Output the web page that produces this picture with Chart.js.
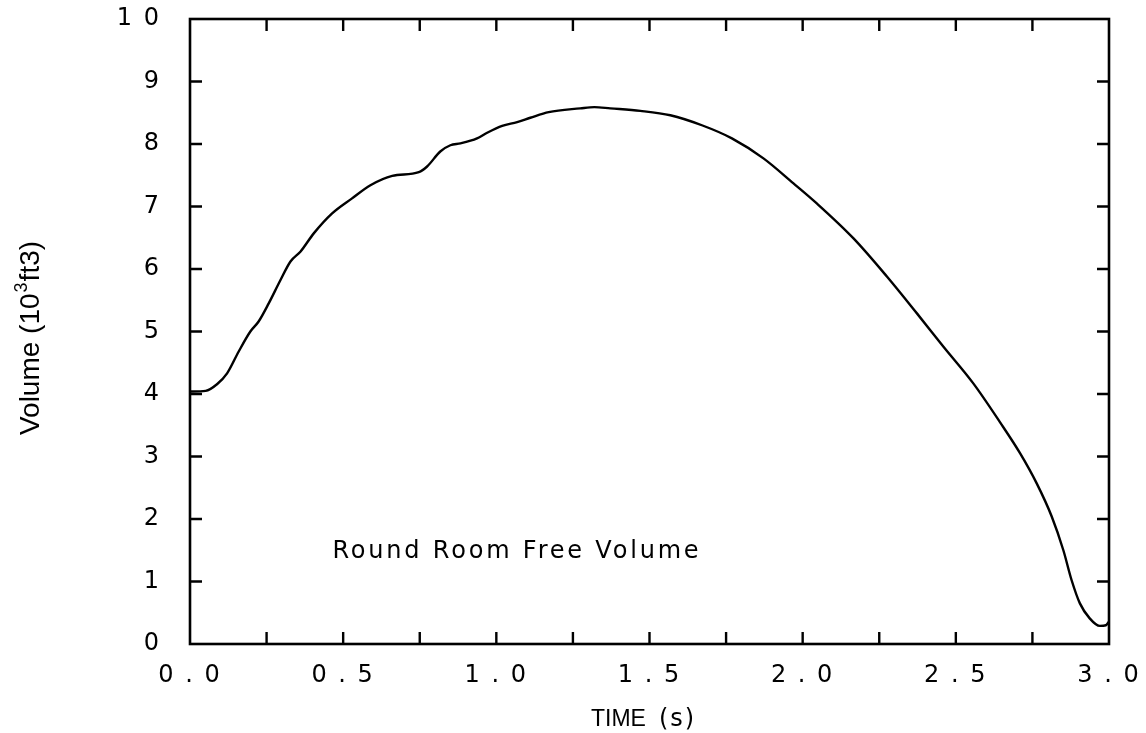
<!DOCTYPE html>
<html>
<head>
<meta charset="utf-8">
<script src="https://cdn.jsdelivr.net/npm/chart.js@4.4.1/dist/chart.umd.min.js"></script>
<style>
  html, body { margin: 0; padding: 0; background: #fff; }
  #c { display: block; }
</style>
</head>
<body>
<canvas id="c" width="1146" height="733"></canvas>
<script>
// ---- data ----
const times = [0, 0.051, 0.089, 0.121, 0.159, 0.197, 0.224, 0.257, 0.295, 0.328, 0.361, 0.404, 0.464, 0.529, 0.589, 0.660, 0.747, 0.774, 0.817, 0.850, 0.883, 0.937, 0.970, 1.019, 1.068, 1.111, 1.171, 1.274, 1.32, 1.372, 1.470, 1.568, 1.671, 1.769, 1.872, 1.970, 2.046, 2.166, 2.275, 2.373, 2.459, 2.557, 2.644, 2.710, 2.764, 2.813, 2.851, 2.878, 2.905, 2.937, 2.970, 2.990, 3.0];
const volumes = [4.04, 4.05, 4.16, 4.33, 4.68, 5.0, 5.16, 5.45, 5.82, 6.12, 6.28, 6.57, 6.89, 7.13, 7.34, 7.49, 7.55, 7.64, 7.88, 7.98, 8.01, 8.09, 8.18, 8.29, 8.35, 8.42, 8.51, 8.57, 8.59, 8.57, 8.53, 8.46, 8.30, 8.09, 7.77, 7.37, 7.05, 6.49, 5.88, 5.29, 4.76, 4.17, 3.55, 3.05, 2.57, 2.04, 1.50, 1.02, 0.65, 0.41, 0.29, 0.30, 0.36];
const xTickLabels = ['0 . 0', '0 . 5', '1 . 0', '1 . 5', '2 . 0', '2 . 5', '3 . 0'];
const yTickLabels = ['0', '1', '2', '3', '4', '5', '6', '7', '8', '9', '1 0'];
const xMinorTicks = [0.25, 0.5, 0.75, 1.0, 1.25, 1.5, 1.75, 2.0, 2.25, 2.5, 2.75];
const yMinorTicks = [1, 2, 3, 4, 5, 6, 7, 8, 9];
const annotationText = 'Round Room Free Volume';
const xTitleMain = 'TIME';
const xTitleUnit = '(s)';

const points = times.map((t, i) => ({ x: t, y: volumes[i] }));

const framePlugin = {
  id: 'frame',
  beforeDraw(chart) {
    chart.ctx.letterSpacing = '2px';
  },
  afterDraw(chart) {
    const ctx = chart.ctx;
    const a = chart.chartArea;
    const xs = chart.scales.x, ys = chart.scales.y;
    ctx.save();
    ctx.letterSpacing = '0px';
    ctx.strokeStyle = '#000';
    // frame
    ctx.lineWidth = 2.6;
    ctx.strokeRect(a.left, a.top, a.right - a.left, a.bottom - a.top);
    // inward ticks
    ctx.lineWidth = 2.4;
    const tl = 12;
    ctx.beginPath();
    xMinorTicks.forEach(v => {
      const px = xs.getPixelForValue(v);
      ctx.moveTo(px, a.bottom); ctx.lineTo(px, a.bottom - tl);
      ctx.moveTo(px, a.top); ctx.lineTo(px, a.top + tl);
    });
    yMinorTicks.forEach(v => {
      const py = ys.getPixelForValue(v);
      ctx.moveTo(a.left, py); ctx.lineTo(a.left + tl, py);
      ctx.moveTo(a.right, py); ctx.lineTo(a.right - tl, py);
    });
    ctx.stroke();

    ctx.fillStyle = '#000';
    // annotation
    ctx.font = '24px "DejaVu Sans"';
    ctx.letterSpacing = '2.8px';
    ctx.textAlign = 'left';
    ctx.textBaseline = 'alphabetic';
    ctx.fillText(annotationText, xs.getPixelForValue(0.465), 558);

    // x title
    ctx.letterSpacing = '0px';
    ctx.font = '23px "Liberation Sans Narrow", "Liberation Sans", sans-serif';
    ctx.fillText(xTitleMain, 591, 726);
    ctx.font = '24px "DejaVu Sans"';
    ctx.letterSpacing = '2px';
    ctx.fillText(xTitleUnit, 659, 726);

    // y title (rotated) with superscript
    ctx.letterSpacing = '0px';
    ctx.translate(39, 338);
    ctx.rotate(-Math.PI / 2);
    const f = '28px "Liberation Sans Narrow", "Liberation Sans", sans-serif';
    const fs = '18px "Liberation Sans Narrow", "Liberation Sans", sans-serif';
    const p1 = 'Volume (10', p2 = '3', p3 = 'ft3)';
    ctx.font = f; const w1 = ctx.measureText(p1).width; const w3 = ctx.measureText(p3).width;
    ctx.font = fs; const w2 = ctx.measureText(p2).width;
    const total = w1 + w2 + 2 + w3;
    let x0 = -total / 2;
    ctx.textAlign = 'left';
    ctx.font = f; ctx.fillText(p1, x0, 0);
    ctx.font = fs; ctx.fillText(p2, x0 + w1 + 1, -12);
    ctx.font = f; ctx.fillText(p3, x0 + w1 + w2 + 2, 0);
    ctx.restore();
  }
};

new Chart(document.getElementById('c'), {
  type: 'line',
  data: {
    datasets: [{
      data: points,
      borderColor: '#000',
      borderWidth: 2.4,
      pointRadius: 0,
      fill: false,
      cubicInterpolationMode: 'monotone'
    }]
  },
  options: {
    responsive: false,
    animation: false,
    layout: { padding: { top: 19, right: 37, left: 0, bottom: 0 } },
    plugins: { legend: { display: false }, tooltip: { enabled: false } },
    scales: {
      x: {
        type: 'linear', min: 0, max: 3,
        grid: { display: false, drawTicks: false },
        border: { display: false },
        afterFit(s) { s.height = 89; s.paddingLeft = 0; s.paddingRight = 0; },
        afterBuildTicks(s) { s.ticks = xTickLabels.map((_, i) => ({ value: i * 0.5 })); },
        ticks: {
          color: '#000', padding: 17,
          font: { family: 'DejaVu Sans', size: 24 },
          maxRotation: 0, autoSkip: false,
          callback: (v, i) => xTickLabels[i]
        }
      },
      y: {
        type: 'linear', min: 0, max: 10,
        grid: { display: false, drawTicks: false },
        border: { display: false },
        afterFit(s) { s.width = 190; s.paddingTop = 0; s.paddingBottom = 0; },
        afterBuildTicks(s) { s.ticks = yTickLabels.map((_, i) => ({ value: i })); },
        ticks: {
          color: '#000', padding: 29,
          font: { family: 'DejaVu Sans', size: 24 },
          autoSkip: false,
          callback: (v, i) => yTickLabels[i]
        }
      }
    }
  },
  plugins: [framePlugin]
});
</script>
</body>
</html>
